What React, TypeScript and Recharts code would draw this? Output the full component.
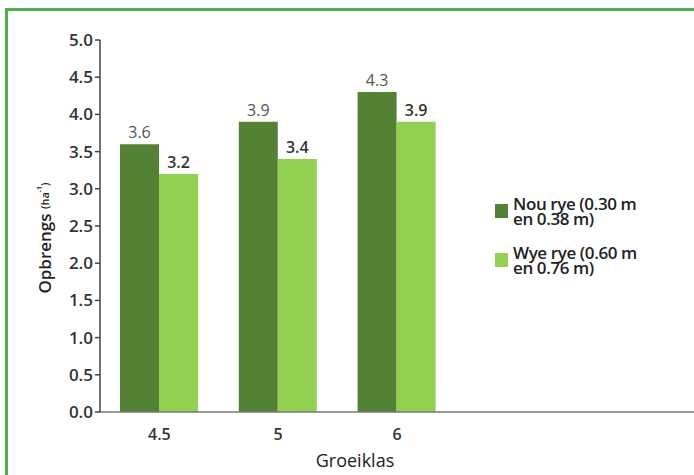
import React from 'react';
import { BarChart, Bar, XAxis, YAxis, Legend, LabelList } from 'recharts';

// Groeiklas categories; the last two slots stay empty on the axis
const classes = ['4.5', '5', '6', '', ' '];
const narrowRows = [3.6, 3.9, 4.3, null, null];
const wideRows = [3.2, 3.4, 3.9, null, null];
const yTicks = [0, 0.5, 1, 1.5, 2, 2.5, 3, 3.5, 4, 4.5, 5];

const NARROW_NAME = 'Nou rye (0.30 m\nen 0.38 m)';
const WIDE_NAME = 'Wye rye (0.60 m\nen 0.76 m)';

const DARK = '#548235';
const LIGHT = '#92d050';
const FONT = '"Open Sans", "Noto Sans", sans-serif';

const data = classes.map((name, i) => ({
  name,
  narrow: narrowRows[i],
  wide: wideRows[i],
}));

const YLabel = () => (
  <text
    x={44}
    y={238}
    transform="rotate(-90 44 238)"
    textAnchor="middle"
    dominantBaseline="central"
    fontFamily={FONT}
    fill="#222"
  >
    <tspan fontSize={17} fontWeight={600}>Opbrengs </tspan>
    <tspan fontSize={11} fontWeight={600}>(ha</tspan>
    <tspan fontSize={7} fontWeight={600} dy={-5}>-1</tspan>
    <tspan fontSize={11} fontWeight={600} dy={5}>)</tspan>
  </text>
);

const XLabel = () => (
  <text x={355} y={467} textAnchor="middle" fontFamily={FONT} fontSize={18} fill="#222">
    Groeiklas
  </text>
);

const LegendBox = (props: any) => (
  <div style={{ fontFamily: FONT, fontSize: 17, fontWeight: 600, color: '#222', letterSpacing: -0.4 }}>
    {(props.payload || []).map((entry: any, i: number) => (
      <div key={i} style={{ display: 'flex', alignItems: 'center', marginBottom: 19 }}>
        <div style={{ width: 13, height: 14, background: entry.color, marginRight: 5 }} />
        <div style={{ whiteSpace: 'pre-line', lineHeight: '15px' }}>{entry.value}</div>
      </div>
    ))}
  </div>
);

export default function App() {
  return (
    <div style={{ position: 'absolute', left: 0, top: 0, width: 694, height: 475, overflow: 'hidden', background: '#fff' }}>
      <div
        style={{
          position: 'absolute',
          left: 5,
          top: 8,
          width: 720,
          height: 500,
          border: '3px solid #4caf50',
          boxSizing: 'border-box',
        }}
      />
      <BarChart
        width={694}
        height={475}
        data={data}
        margin={{ top: 40, right: 0, bottom: 33, left: 0 }}
        barCategoryGap={20}
        barGap={0}
        style={{ position: 'absolute', left: 0, top: 0 }}
      >
        <XAxis
          dataKey="name"
          height={30}
          axisLine={{ stroke: '#777', strokeWidth: 1.5 }}
          tickLine={false}
          tickSize={0}
          tickMargin={17}
          tick={{ fill: '#333', fontSize: 16, fontWeight: 600, fontFamily: FONT }}
          label={<XLabel />}
        />
        <YAxis
          width={100}
          domain={[0, 5]}
          ticks={yTicks}
          interval={0}
          tickFormatter={(v: number) => v.toFixed(1)}
          axisLine={{ stroke: '#444', strokeWidth: 1.5 }}
          tickLine={{ stroke: '#444', strokeWidth: 1.5 }}
          tickSize={5}
          tickMargin={2}
          tick={{ fill: '#333', fontSize: 17, fontWeight: 600, fontFamily: FONT }}
          label={<YLabel />}
        />
        <Legend
          layout="vertical"
          align="center"
          verticalAlign="middle"
          content={<LegendBox />}
          wrapperStyle={{ left: 495, top: 196, width: 195 }}
        />
        <Bar dataKey="narrow" name={NARROW_NAME} fill={DARK} isAnimationActive={false}>
          <LabelList
            dataKey="narrow"
            position="top"
            offset={6}
            formatter={(v: any) => (v == null ? '' : Number(v).toFixed(1))}
            style={{ fill: '#555', fontSize: 16, fontFamily: FONT }}
          />
        </Bar>
        <Bar dataKey="wide" name={WIDE_NAME} fill={LIGHT} isAnimationActive={false}>
          <LabelList
            dataKey="wide"
            position="top"
            offset={6}
            formatter={(v: any) => (v == null ? '' : Number(v).toFixed(1))}
            style={{ fill: '#333', fontSize: 16, fontWeight: 600, fontFamily: FONT }}
          />
        </Bar>
      </BarChart>
    </div>
  );
}
